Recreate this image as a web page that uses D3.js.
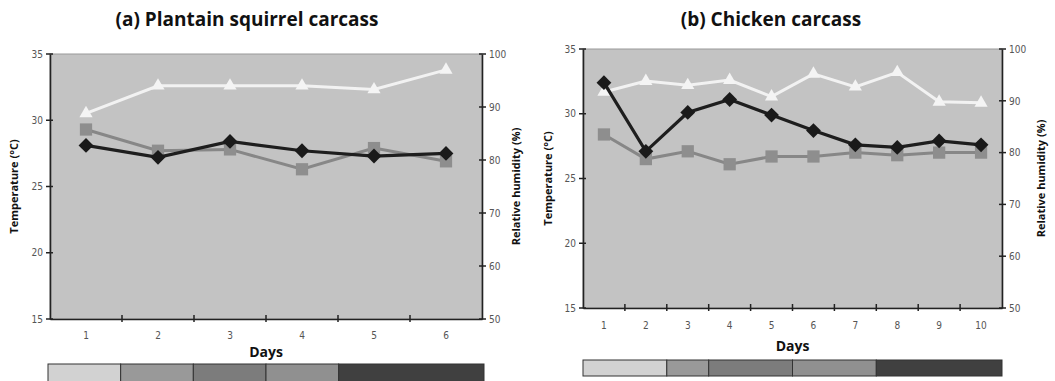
<!DOCTYPE html>
<html>
<head>
<meta charset="utf-8">
<script src="https://cdn.jsdelivr.net/npm/d3@7"></script>
<style>
  body { margin: 0; background: #fff; }
  svg { display: block; }
</style>
</head>
<body>
<svg id="chart" width="1055" height="381"></svg>
<script>
// squirrel carcass (6 days)
const daysA = [1, 2, 3, 4, 5, 6];
const humidA = [88.8, 94.0, 94.0, 94.0, 93.3, 97.0];
const tempSquareA = [29.3, 27.7, 27.8, 26.3, 27.9, 26.9];
const tempDiamondA = [28.1, 27.2, 28.4, 27.7, 27.3, 27.5];

// chicken carcass (10 days)
const daysB = [1, 2, 3, 4, 5, 6, 7, 8, 9, 10];
const humidB = [91.7, 93.8, 93.0, 94.0, 90.8, 95.2, 92.7, 95.5, 89.8, 89.6];
const tempSquareB = [28.4, 26.5, 27.1, 26.1, 26.7, 26.7, 27.0, 26.8, 27.0, 27.0];
const tempDiamondB = [32.4, 27.1, 30.1, 31.1, 29.9, 28.7, 27.6, 27.4, 27.9, 27.6];

const tempTicks = [15, 20, 25, 30, 35];
const humidTicks = [50, 60, 70, 80, 90, 100];

// legend strip segments (day boundaries)
const legendA = [[0, 1, "#d2d2d2"], [1, 2, "#999999"], [2, 3, "#7c7c7c"], [3, 4, "#909090"], [4, 6, "#404040"]];
const legendB = [[0, 2, "#d2d2d2"], [2, 3, "#999999"], [3, 5, "#7c7c7c"], [5, 7, "#909090"], [7, 10, "#404040"]];

const svg = d3.select("#chart");

function drawPanel(opt) {
  const g = svg.append("g");
  const x = d3.scaleBand().domain(opt.days).range([opt.x0, opt.x1]);
  const yT = d3.scaleLinear().domain([15, 35]).range([opt.y1, opt.y0]);
  const yH = d3.scaleLinear().domain([50, 100]).range([opt.y1, opt.y0]);

  g.append("rect")
    .attr("x", opt.x0).attr("y", opt.y0)
    .attr("width", opt.x1 - opt.x0).attr("height", opt.y1 - opt.y0)
    .attr("fill", "#c3c3c3")
    .attr("stroke", "#9a9a9a").attr("stroke-width", 1);

  // left axis
  const la = g.append("g").attr("transform", "translate(" + opt.x0 + ",0)")
    .call(d3.axisLeft(yT).tickValues(tempTicks).tickSize(0).tickPadding(7));
  // right axis
  const ra = g.append("g").attr("transform", "translate(" + opt.x1 + ",0)")
    .call(d3.axisRight(yH).tickValues(humidTicks).tickSize(0).tickPadding(7));
  // bottom axis
  const ba = g.append("g").attr("transform", "translate(0," + opt.y1 + ")")
    .call(d3.axisBottom(x).tickSize(0).tickPadding(opt.xpad));

  [la, ra, ba].forEach(a => {
    a.select(".domain").attr("stroke", "#222").attr("stroke-width", 1.6);
    a.selectAll("text").attr("fill", "#555").style("font-family", "'Liberation Sans Narrow', 'DejaVu Sans Condensed', sans-serif").style("font-size", "10px");
  });

  // cross ticks
  tempTicks.forEach(t => {
    g.append("line").attr("x1", opt.x0 - 4).attr("x2", opt.x0 + 3)
      .attr("y1", yT(t)).attr("y2", yT(t)).attr("stroke", "#222").attr("stroke-width", 1.5);
  });
  humidTicks.forEach(t => {
    g.append("line").attr("x1", opt.x1 - 3).attr("x2", opt.x1 + 4)
      .attr("y1", yH(t)).attr("y2", yH(t)).attr("stroke", "#222").attr("stroke-width", 1.5);
  });
  opt.days.slice(1).forEach(d => {
    g.append("line").attr("x1", x(d)).attr("x2", x(d))
      .attr("y1", opt.y1 - 4).attr("y2", opt.y1 + 3).attr("stroke", "#222").attr("stroke-width", 1.5);
  });

  const cx = d => x(d) + x.bandwidth() / 2;

  function series(vals, y, color, lw, symbol, size, fill) {
    const line = d3.line().x((v, i) => cx(opt.days[i])).y(v => y(v));
    g.append("path").datum(vals).attr("d", line)
      .attr("fill", "none").attr("stroke", color).attr("stroke-width", lw);
    g.selectAll(null).data(vals).enter().append("path")
      .attr("d", d3.symbol().type(symbol).size(size))
      .attr("transform", (v, i) => "translate(" + cx(opt.days[i]) + "," + y(v) + ")")
      .attr("fill", fill);
  }

  series(opt.humid, yH, "#f2f2f2", 3, d3.symbolTriangle, 75, "#f4f4f4");
  series(opt.square, yT, "#878787", 3, d3.symbolSquare, 150, "#8e8e8e");
  series(opt.diamond, yT, "#1e1e1e", 3.2, d3.symbolDiamond2, 140, "#1a1a1a");

  // titles
  g.append("text").attr("x", opt.titleX).attr("y", 26)
    .attr("text-anchor", "middle")
    .style("font-family", "'Open Sans', sans-serif").style("font-weight", "bold")
    .style("font-size", "19px").attr("fill", "#111")
    .text(opt.title);

  g.append("text").attr("x", (opt.x0 + opt.x1) / 2).attr("y", opt.daysY)
    .attr("text-anchor", "middle")
    .style("font-family", "'Open Sans', sans-serif").style("font-weight", "bold")
    .style("font-size", "14px").attr("fill", "#111")
    .text("Days");

  g.append("text")
    .attr("transform", "translate(" + opt.tLabX + "," + (opt.y0 + opt.y1) / 2 + ") rotate(-90)")
    .attr("text-anchor", "middle")
    .style("font-family", "'Open Sans', sans-serif").style("font-weight", "bold")
    .style("font-size", "11px").attr("fill", "#111")
    .text("Temperature (°C)");

  g.append("text")
    .attr("transform", "translate(" + opt.hLabX + "," + (opt.y0 + opt.y1) / 2 + ") rotate(-90)")
    .attr("text-anchor", "middle")
    .style("font-family", "'Open Sans', sans-serif").style("font-weight", "bold")
    .style("font-size", "11px").attr("fill", "#111")
    .text("Relative humidity (%)");

  // legend strip
  const lx = d3.scaleLinear().domain([0, opt.days.length]).range([opt.lx0, opt.lx1]);
  g.selectAll(null).data(opt.legend).enter().append("rect")
    .attr("x", d => lx(d[0])).attr("y", opt.ly0)
    .attr("width", d => lx(d[1]) - lx(d[0])).attr("height", opt.ly1 - opt.ly0)
    .attr("fill", d => d[2]).attr("stroke", "#333").attr("stroke-width", 1);
}

drawPanel({
  days: daysA, humid: humidA, square: tempSquareA, diamond: tempDiamondA,
  x0: 50, x1: 482, y0: 54, y1: 319, xpad: 13,
  title: "(a) Plantain squirrel carcass", titleX: 247, daysY: 357,
  tLabX: 18, hLabX: 520,
  legend: legendA, lx0: 48, lx1: 484, ly0: 364, ly1: 388
});

drawPanel({
  days: daysB, humid: humidB, square: tempSquareB, diamond: tempDiamondB,
  x0: 583, x1: 1002, y0: 49, y1: 308, xpad: 14,
  title: "(b) Chicken carcass", titleX: 771, daysY: 351,
  tLabX: 552, hLabX: 1045,
  legend: legendB, lx0: 583, lx1: 1002, ly0: 360, ly1: 376
});
</script>
</body>
</html>
